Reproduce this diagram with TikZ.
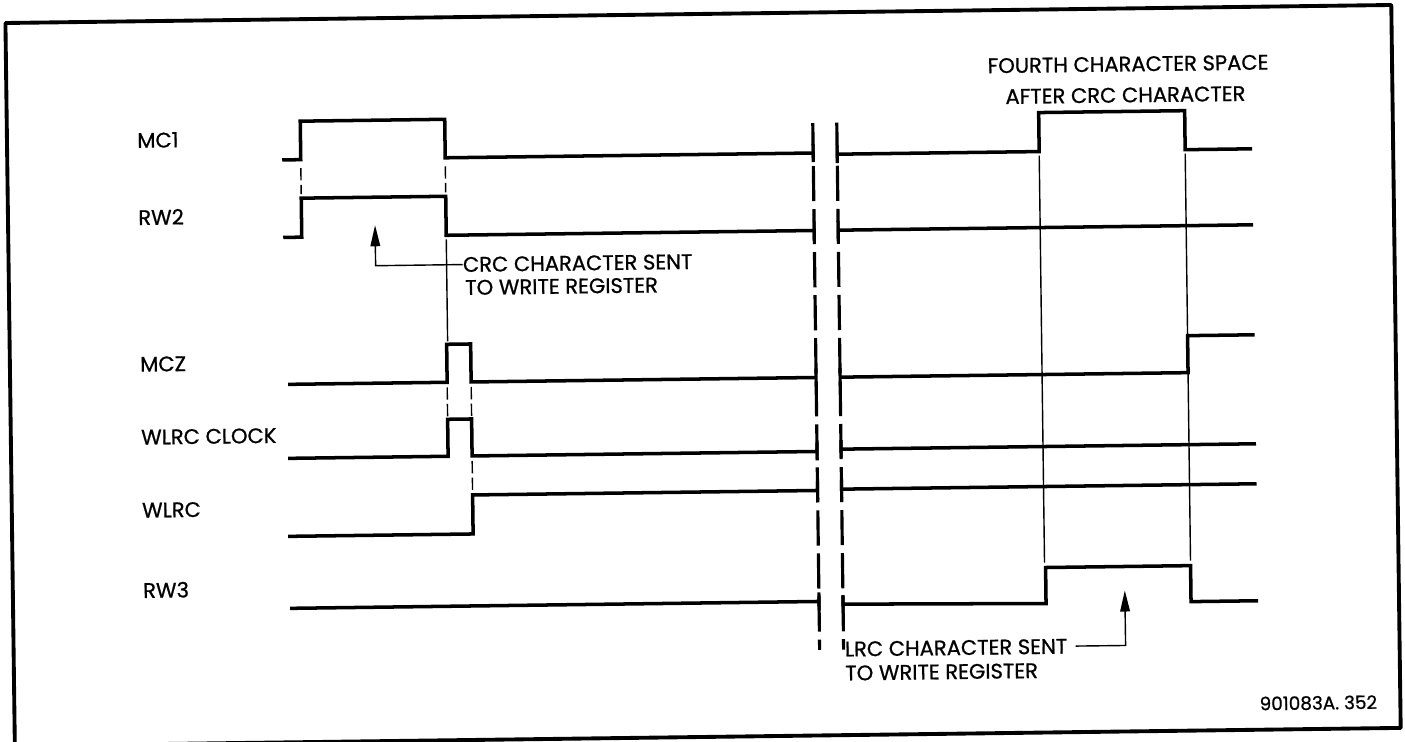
\documentclass[tikz,border=0pt]{standalone}
\usepackage{fontspec}
\setmainfont{Poppins}[FakeBold=0.8]
\usetikzlibrary{arrows.meta}
\begin{document}
\begin{tikzpicture}[x=0.02cm,y=-0.02cm,
  sig/.style={line width=2pt, line join=miter},
  guide/.style={line width=0.8pt, dash pattern=on 7pt off 2.5pt},
  thinline/.style={line width=0.8pt},
  brk/.style={line width=1.8pt, dash pattern=on 20pt off 4.5pt},
  tick/.style={line width=1.8pt},
  lbl/.style={font=\fontsize{12}{14}\selectfont, inner sep=0pt, anchor=west, transform shape},
  ctr/.style={font=\fontsize{12}{14}\selectfont, inner sep=0pt, anchor=center, transform shape},
  foot/.style={font=\fontsize{10.5}{12}\selectfont, inner sep=0pt, anchor=center, transform shape},
  arr/.style={line width=0.8pt, -{Triangle[length=12pt,width=5.5pt]}},
  frm/.style={line width=2.2pt, line join=round}]
\useasboundingbox (0,0) rectangle (1405,742);
\begin{scope}[rotate around={0.745:(700,371)}]
  % frame
  \draw[frm] (10,760) -- (10,14) -- (1396,14) -- (1396,737) -- (-20,737);
  % labels
  \node[lbl] (lmc1) at (140,133) {MC1};
  \node[lbl] (lrw2) at (140,210) {RW2};
  \node[lbl] (lmcz) at (140,357) {MCZ};
  \node[lbl] (lclk) at (140,430) {WLRC CLOCK};
  \node[lbl] (lwlrc) at (140,503) {WLRC};
  \node[lbl] (lrw3) at (140,583) {RW3};
  % signals left of break
  \draw[sig] (285,154.5) -- (303.5,154.5) -- (303.5,116) -- (448,116) -- (448,154.5) -- (816,154.5);
  \draw[sig] (285,232) -- (303.5,232) -- (303.5,193) -- (448,193) -- (448,232) -- (816,232);
  \draw[sig] (288,379) -- (447,379) -- (447,341) -- (471,341) -- (471,379) -- (816,379);
  \draw[sig] (287,453) -- (447,453) -- (447,416) -- (471,416) -- (471,453) -- (816,453);
  \draw[sig] (286,531) -- (471,531) -- (471,492) -- (816,492);
  \draw[sig] (287,603) -- (816,603);
  % signals right of break
  \draw[sig] (840,156) -- (1042,156) -- (1042,117) -- (1188,117) -- (1188,156) -- (1255,156);
  \draw[sig] (840,232) -- (1255,232);
  \draw[sig] (840,379) -- (1188,379) -- (1188,342) -- (1255,342);
  \draw[sig] (840,451) -- (1255,451);
  \draw[sig] (840,491) -- (1255,491);
  \draw[sig] (840,606) -- (1043,608) -- (1043,572) -- (1188,572) -- (1188,608) -- (1255,608);
  % break lines
  \draw[brk] (816,124.5) -- (816,651.5);
  \draw[brk] (840,124.5) -- (840,651.5);
  \foreach \y in {154.5,232,379,453,492,603} {\draw[tick] (816,\y-9) -- (816,\y+9);}
  \foreach \y in {156,232,379,451,491,606} {\draw[tick] (840,\y-9) -- (840,\y+9);}
  % guide lines
  \draw[guide] (303.5,163) -- (303.5,189);
  \draw[guide] (448,163) -- (448,189);
  \draw[thinline] (448,236) -- (448,338);
  \draw[guide] (447,384) -- (447,413);
  \draw[guide] (471,384) -- (471,413);
  \draw[guide] (471,458) -- (471,489);
  \draw[thinline] (1042,160) -- (1042,567);
  \draw[thinline] (1188,160) -- (1188,567);
  % CRC annotation
  \node[lbl] (crc1) at (464,261.5) {CRC CHARACTER SENT};
  \node[lbl] (crc2) at (466,284.5) {TO WRITE REGISTER};
  \coordinate (crcTip) at (377,221);
  \draw[arr] (crc1.west) -- (377,261.5) -- (crcTip);
  % LRC annotation
  \node[lbl] (lrc1) at (841,651) {LRC CHARACTER SENT};
  \node[lbl] (lrc2) at (841,675) {TO WRITE REGISTER};
  \coordinate (lrcTip) at (1122,596);
  \draw[arr] ([xshift=8*0.02cm]lrc1.east) -- (1122,651) -- (lrcTip);
  % top annotation
  \node[ctr] (t1) at (1132,69.6) {FOURTH CHARACTER SPACE};
  \node[ctr] (t2) at (1129,100.6) {AFTER CRC CHARACTER};
  % footer
  \node[foot] (ft) at (1314,711) {901083A. 352};
\end{scope}
\end{tikzpicture}
\end{document}
